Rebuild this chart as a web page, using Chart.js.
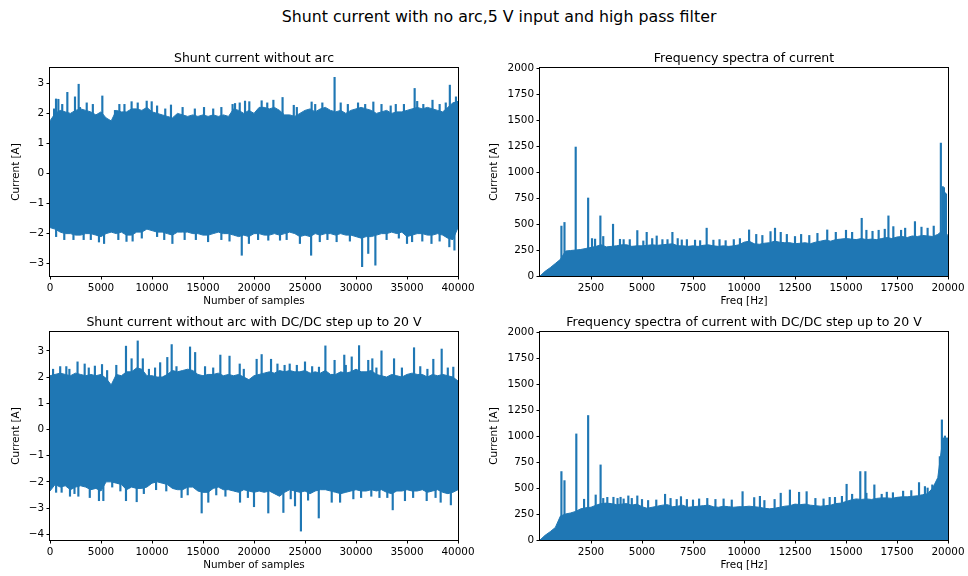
<!DOCTYPE html>
<html>
<head>
<meta charset="utf-8">
<script src="https://cdn.jsdelivr.net/npm/chart.js@4.4.0/dist/chart.umd.min.js"></script>
<style>
  body { margin: 0; background: #fff; }
  #fig { position: relative; width: 968px; height: 576px; overflow: hidden; background: #fff; font-family: "DejaVu Sans", sans-serif; }
  #fig canvas { position: absolute; }
  #suptitle { position: absolute; left: 0; width: 998px; top: 8.5px; line-height: 16px; font-size: 15.8px; text-align: center; color: #000; }
</style>
</head>
<body>
<div id="fig">
  <div id="suptitle">Shunt current with no arc,5 V input and high pass filter</div>
  <canvas id="tl" width="528" height="274" style="left:-10px;top:38px"></canvas>
  <canvas id="tr" width="528" height="274" style="left:480px;top:38px"></canvas>
  <canvas id="bl" width="528" height="274" style="left:-10px;top:302px"></canvas>
  <canvas id="br" width="528" height="274" style="left:480px;top:302px"></canvas>
</div>
<script>
const blue = "#1f77b4";

// sample index of each envelope point (time plots) and frequency of each envelope point (spectra)
const timeBins = [0, 500, 1000, 1500, 2000, 2500, 3000, 3500, 4000, 4500, 5000, 5500, 6000, 6500, 7000, 7500, 8000, 8500, 9000, 9500,
  10000, 10500, 11000, 11500, 12000, 12500, 13000, 13500, 14000, 14500, 15000, 15500, 16000, 16500, 17000, 17500, 18000, 18500, 19000, 19500,
  20000, 20500, 21000, 21500, 22000, 22500, 23000, 23500, 24000, 24500, 25000, 25500, 26000, 26500, 27000, 27500, 28000, 28500, 29000, 29500,
  30000, 30500, 31000, 31500, 32000, 32500, 33000, 33500, 34000, 34500, 35000, 35500, 36000, 36500, 37000, 37500, 38000, 38500, 39000, 39500, 40000];
const freqBins = [0, 250, 500, 750, 1000, 1250, 1500, 1750, 2000, 2250, 2500, 2750, 3000, 3250, 3500, 3750, 4000, 4250, 4500, 4750,
  5000, 5250, 5500, 5750, 6000, 6250, 6500, 6750, 7000, 7250, 7500, 7750, 8000, 8250, 8500, 8750, 9000, 9250, 9500, 9750,
  10000, 10250, 10500, 10750, 11000, 11250, 11500, 11750, 12000, 12250, 12500, 12750, 13000, 13250, 13500, 13750, 14000, 14250, 14500, 14750,
  15000, 15250, 15500, 15750, 16000, 16250, 16500, 16750, 17000, 17250, 17500, 17750, 18000, 18250, 18500, 18750, 19000, 19250, 19500, 19750, 20000];

// tick labels
const timeTicks = [0, 5000, 10000, 15000, 20000, 25000, 30000, 35000, 40000];
const freqTicks = [2500, 5000, 7500, 10000, 12500, 15000, 17500, 20000];
const currentTicksTop = [-3, -2, -1, 0, 1, 2, 3];
const currentTicksBottom = [-4, -3, -2, -1, 0, 1, 2, 3];
const spectraTicks = [0, 250, 500, 750, 1000, 1250, 1500, 1750, 2000];

// shunt current without arc: band edges and single peaks
const tlUpper = [1.75, 2.0, 2.1, 2.05, 2.0, 2.1, 2.15, 2.1, 2.05, 1.95, 2.05, 1.85, 1.75, 2.1, 2.05, 2.05, 2.15, 2.15, 2.1, 2.2,
  2.05, 2.0, 1.95, 1.9, 1.85, 2.0, 1.95, 1.9, 1.95, 1.9, 1.95, 1.9, 1.95, 1.9, 1.95, 1.9, 2.15, 2.1, 2.0, 2.1,
  2.0, 2.2, 2.2, 2.15, 2.2, 2.1, 1.95, 1.95, 1.9, 2.0, 2.1, 2.15, 2.05, 2.15, 2.2, 2.1, 2.05, 2.1, 2.0, 2.1,
  2.15, 2.2, 2.15, 2.1, 2.0, 2.05, 2.1, 2.0, 2.05, 2.05, 2.1, 2.15, 2.2, 2.15, 2.2, 2.15, 2.1, 2.05, 2.2, 2.35, 2.4];
const tlLower = [-1.8, -1.85, -1.95, -2.0, -2.0, -2.05, -2.05, -2.0, -2.0, -2.05, -2.1, -2.0, -1.95, -2.0, -1.95, -2.05, -2.05, -1.95, -1.95, -1.85,
  -1.9, -1.95, -1.95, -2.0, -2.05, -1.95, -1.95, -1.95, -2.0, -2.0, -2.05, -2.05, -2.0, -1.95, -2.0, -2.0, -2.05, -2.1, -2.05, -2.1,
  -2.0, -2.0, -2.05, -2.05, -2.0, -2.05, -2.0, -1.95, -2.0, -2.1, -2.05, -2.1, -2.0, -2.05, -2.0, -2.0, -2.05, -2.0, -2.05, -2.05,
  -2.1, -2.15, -2.1, -2.1, -2.05, -2.0, -2.0, -1.95, -2.0, -1.95, -2.1, -2.05, -2.0, -2.0, -2.05, -2.05, -2.0, -2.05, -2.15, -2.2, -1.8];
const tlPeakX = [400, 590, 820, 1200, 1700, 2450, 2810, 2940, 3600, 4200, 5130, 6370, 6800, 7300, 8000, 8600, 9480, 9970,
  10500, 11300, 11860, 13000, 14200, 15100, 16000, 16800, 17900, 18140, 18600, 19120, 19540,
  20750, 21300, 21900, 22800, 23900, 24200, 25650, 26000, 26700, 27900, 28500, 29200, 30200, 30900, 31700, 32500, 33400,
  33900, 34700, 35750, 36000, 36600, 37500, 38200, 38800, 39200, 39800,
  600, 1400, 2300, 3300, 4000, 4800, 5300, 6700, 7500, 8100, 9000, 10500, 11200, 12000, 13200, 14300, 15500, 16800, 17600,
  18800, 19500, 20400, 21400, 22550, 23200, 24500, 25600, 26450, 27200, 28100, 29400, 30600, 31200, 31900, 33000, 34200,
  35000, 35500, 36500, 37400, 38200, 39150, 39650];
const tlPeakY = [2.15, 2.48, 2.47, 2.3, 2.7, 2.55, 2.97, 2.2, 2.35, 2.3, 2.58, 2.1, 2.3, 2.3, 2.39, 2.35, 2.41, 2.39,
  2.25, 2.15, 2.28, 2.2, 2.15, 2.2, 2.15, 2.2, 2.3, 2.33, 2.35, 2.41, 2.39,
  2.42, 2.35, 2.44, 2.53, 2.27, 2.2, 2.38, 2.3, 2.35, 3.2, 2.35, 2.3, 2.35, 2.3, 2.38, 2.3, 2.25,
  2.3, 2.3, 2.83, 2.4, 2.3, 2.44, 2.3, 2.35, 2.94, 2.55,
  -2.1, -2.2, -2.2, -2.2, -2.2, -2.28, -2.33, -2.2, -2.26, -2.25, -2.15, -2.1, -2.2, -2.33, -2.2, -2.2, -2.27, -2.2, -2.25,
  -2.72, -2.33, -2.2, -2.22, -2.22, -2.2, -2.33, -2.72, -2.27, -2.2, -2.27, -2.25, -3.1, -2.66, -3.05, -2.2, -2.15,
  -2.33, -2.27, -2.25, -2.33, -2.25, -2.44, -2.55];

// shunt current with DC/DC step up
const blUpper = [2.05, 2.1, 2.15, 2.1, 2.05, 2.15, 2.1, 2.05, 2.1, 2.05, 2.1, 1.95, 1.7, 2.1, 2.05, 2.2, 2.2, 2.35, 2.3, 2.05,
  2.05, 2.0, 2.0, 2.1, 2.25, 2.2, 2.25, 2.3, 2.25, 2.1, 2.05, 2.1, 2.1, 2.15, 2.05, 2.1, 2.05, 2.1, 2.0, 1.9,
  2.05, 2.1, 2.15, 2.2, 2.15, 2.25, 2.2, 2.25, 2.2, 2.2, 2.25, 2.15, 2.2, 2.15, 2.25, 2.1, 2.1, 2.2, 2.15, 2.2,
  2.3, 2.2, 2.2, 2.25, 2.1, 2.05, 2.0, 2.1, 2.05, 2.0, 2.1, 2.15, 2.1, 2.1, 2.0, 2.1, 2.05, 2.1, 2.05, 2.0, 1.85];
const blLower = [-2.35, -2.1, -2.2, -2.15, -2.3, -2.2, -2.15, -2.2, -2.3, -2.25, -2.35, -2.0, -2.0, -2.05, -2.1, -2.3, -2.2, -2.25, -2.25, -2.2,
  -2.05, -2.0, -2.05, -2.1, -2.25, -2.3, -2.3, -2.2, -2.2, -2.35, -2.4, -2.4, -2.25, -2.2, -2.3, -2.3, -2.35, -2.4, -2.3, -2.35,
  -2.4, -2.35, -2.4, -2.35, -2.45, -2.55, -2.4, -2.3, -2.35, -2.4, -2.35, -2.45, -2.35, -2.3, -2.3, -2.35, -2.4, -2.45, -2.4, -2.35,
  -2.3, -2.35, -2.35, -2.3, -2.35, -2.3, -2.4, -2.45, -2.35, -2.35, -2.3, -2.35, -2.35, -2.3, -2.4, -2.35, -2.3, -2.4, -2.45, -2.4, -2.3];
const blPeakX = [300, 1000, 1600, 1900, 2700, 3400, 3800, 4400, 5100, 5600, 6500, 7450, 8000, 8600, 9100, 9700, 10300, 10800,
  11500, 11930, 12400, 13730, 14230, 15200, 16000, 16700, 17600, 18600, 19000, 20260, 20750, 21670, 22300, 23000, 23500,
  24200, 25000, 25700, 26370, 27000, 27900, 28850, 29000, 29580, 30300, 31200, 31600, 32000, 32500, 33730, 34500, 35690,
  36300, 37000, 37580, 38400, 39000, 39540,
  600, 1140, 1960, 2400, 2780, 3900, 4800, 5230, 6100, 6900, 7450, 8500, 9200, 10400, 11400, 12900, 13500, 14870, 15520,
  16300, 17200, 18630, 19400, 20000, 21400, 22880, 23600, 24020, 24600, 25300, 26350, 27620, 28440, 29740, 30500, 31500,
  32300, 33070, 33600, 34800, 35600, 36930, 37800, 38300, 39300];
const blPeakY = [2.3, 2.4, 2.4, 2.3, 2.58, 2.5, 2.35, 2.42, 2.48, 2.25, 2.45, 3.18, 2.7, 3.38, 2.7, 2.3, 2.35, 2.55,
  2.75, 3.24, 2.4, 3.15, 2.94, 2.4, 2.35, 2.84, 2.8, 2.5, 2.3, 2.68, 2.86, 2.68, 2.5, 2.45, 2.5,
  2.45, 2.58, 2.4, 2.38, 3.19, 2.64, 2.84, 2.45, 2.77, 3.2, 2.64, 2.7, 2.35, 3.0, 2.7, 2.35, 3.12,
  2.4, 2.3, 2.68, 3.07, 2.35, 2.38,
  -2.4, -2.4, -2.55, -2.45, -2.55, -2.6, -2.72, -2.72, -2.2, -2.35, -2.72, -2.76, -2.45, -2.3, -2.35, -2.6, -2.5, -3.19, -2.78,
  -2.5, -2.55, -2.78, -2.6, -2.95, -3.19, -3.17, -2.65, -2.92, -3.88, -2.7, -3.38, -2.78, -2.78, -2.65, -2.6, -2.55,
  -2.6, -2.6, -3.07, -2.72, -2.6, -2.72, -2.6, -2.78, -2.88];

// frequency spectra: top of the dense band and single peaks
const trEnvelope = [0, 45, 80, 120, 160, 240, 245, 250, 255, 265, 275, 285, 300, 280, 285, 290, 300, 300, 285, 290,
  290, 295, 300, 295, 300, 305, 310, 290, 290, 285, 290, 285, 295, 300, 290, 285, 290, 285, 290, 300,
  325, 335, 310, 305, 315, 320, 335, 325, 320, 320, 310, 315, 320, 310, 325, 335, 345, 335, 350, 355,
  360, 355, 350, 360, 350, 355, 350, 360, 370, 360, 375, 380, 370, 385, 380, 390, 385, 380, 400, 440, 390];
const trPeakX = [1050, 1200, 1750, 2360, 2550, 2700, 2960, 3100, 3580, 3920, 4100, 4400, 4770, 5065, 5230, 5500, 5720, 6000,
  6250, 6490, 6750, 6950, 7200, 7600, 7850, 8170, 8500, 8800, 9100, 9500, 9800, 10250, 10600, 10900, 11300, 11520, 11800,
  12100, 12500, 12800, 13200, 13600, 14080, 14500, 15000, 15300, 15770, 16000, 16300, 16600, 16900, 17080, 17320, 17700,
  17900, 18380, 18700, 19000, 19300, 19650, 19740, 19800, 19850, 19900];
const trPeakY = [480, 515, 1240, 750, 360, 355, 578, 380, 498, 353, 350, 350, 437, 337, 420, 360, 385, 350,
  350, 420, 360, 347, 350, 345, 340, 460, 345, 350, 340, 350, 360, 443, 400, 390, 427, 460, 420,
  400, 380, 400, 390, 410, 443, 420, 440, 420, 555, 440, 430, 440, 450, 578, 475, 440,
  460, 523, 470, 460, 480, 1278, 860, 850, 800, 790];

const brEnvelope = [0, 45, 80, 120, 230, 250, 260, 275, 300, 310, 315, 335, 350, 355, 350, 340, 345, 350, 335, 345,
  320, 305, 315, 325, 335, 340, 320, 325, 335, 315, 320, 325, 330, 335, 320, 315, 325, 320, 315, 320,
  320, 325, 320, 315, 305, 300, 305, 315, 325, 330, 345, 340, 345, 335, 330, 325, 330, 335, 350, 355,
  370, 385, 395, 390, 395, 390, 400, 405, 405, 400, 410, 415, 415, 420, 425, 435, 445, 500, 600, 980, 980];
const brPeakX = [1050, 1200, 1780, 2160, 2360, 2730, 2970, 3100, 3300, 3600, 3800, 3950, 4100, 4330, 4500, 4770, 5000,
  5300, 5700, 6130, 6400, 6700, 6910, 7200, 7500, 7800, 8200, 8600, 9000, 9400, 9930, 10500, 10780, 11000, 11500, 11800,
  12250, 12700, 13070, 13500, 13900, 14200, 14460, 14800, 15030, 15300, 15700, 15950, 16000, 16390, 16750, 17000, 17300,
  17800, 18200, 18580, 18870, 19000, 19230, 19600, 19700, 19850];
const brPeakY = [658, 571, 1020, 392, 1197, 433, 722, 400, 410, 411, 400, 411, 395, 424, 400, 424, 390,
  380, 385, 440, 400, 390, 417, 390, 385, 395, 400, 390, 395, 385, 465, 408, 420, 380, 390, 450,
  481, 459, 465, 400, 395, 410, 410, 420, 536, 440, 658, 658, 450, 530, 440, 460, 455,
  470, 475, 552, 514, 500, 530, 802, 1155, 1000];

const font = "DejaVu Sans";

// matplotlib draws a box on all four sides
const frame = {
  id: "frame",
  afterDatasetsDraw(chart) {
    let a = chart.chartArea;
    let ctx = chart.ctx;
    ctx.save();
    ctx.strokeStyle = "#000";
    ctx.lineWidth = 1;
    ctx.strokeRect(a.left - 0.5, a.top - 0.5, a.right - a.left + 1, a.bottom - a.top + 1);
    ctx.restore();
  },
};

function points(xs, ys) {
  return xs.map((x, i) => ({ x: x, y: ys[i] }));
}

function axis(ticks, min, max, title, titlePad, isY) {
  return {
    type: "linear",
    min: min,
    max: max,
    offset: false,
    afterBuildTicks: (s) => {
      s.ticks = ticks.map((v) => ({ value: v }));
    },
    afterFit: (s) => {
      if (isY) s.width = 60;
      else s.height = 36;
    },
    ticks: {
      autoSkip: false,
      maxRotation: 0,
      padding: 2.5,
      color: "#000",
      font: { family: font, size: 10.4 },
      callback: (v) => String(v).replace("-", "\u2212"),
    },
    grid: { display: true, offset: false, drawOnChartArea: false, drawTicks: true, tickLength: 3.5, color: "#000", lineWidth: 1 },
    border: { display: false },
    title: { display: true, text: title, color: "#000", font: { family: font, size: 10.4 }, padding: titlePad },
  };
}

// empty axis on the right so the title centres over the plot area
const spacer = {
  position: "right",
  display: true,
  afterFit: (s) => {
    s.width = 60;
  },
  ticks: { display: false },
  grid: { display: false },
  border: { display: false },
};

function makePlot(id, title, datasets, xScale, yScale) {
  return new Chart(document.getElementById(id), {
    type: "line",
    data: { datasets: datasets },
    options: {
      responsive: false,
      animation: false,
      devicePixelRatio: 1,
      layout: { padding: 0 },
      plugins: {
        legend: { display: false },
        tooltip: { enabled: false },
        title: {
          display: true,
          text: title,
          color: "#000",
          font: { family: font, size: 12.5, weight: "normal" },
          padding: { top: 13.5, bottom: 1.5 },
        },
      },
      scales: { x: xScale, y: yScale, y2: spacer },
    },
    plugins: [frame],
  });
}

function timeSets(upper, lower, peakX, peakY) {
  return [
    { type: "line", data: points(timeBins, upper), fill: "+1", borderColor: blue, backgroundColor: blue, borderWidth: 1, pointRadius: 0 },
    { type: "line", data: points(timeBins, lower), fill: false, borderColor: blue, borderWidth: 1, pointRadius: 0 },
    { type: "bar", data: points(peakX, peakY), backgroundColor: blue, barThickness: 1.5, borderWidth: 0 },
  ];
}

function spectraSets(envelope, peakX, peakY) {
  return [
    { type: "line", data: points(freqBins, envelope), fill: "origin", borderColor: blue, backgroundColor: blue, borderWidth: 1, pointRadius: 0 },
    { type: "bar", data: points(peakX, peakY), backgroundColor: blue, barThickness: 1.5, borderWidth: 0 },
  ];
}

makePlot("tl", "Shunt current without arc", timeSets(tlUpper, tlLower, tlPeakX, tlPeakY),
  axis(timeTicks, 0, 40000, "Number of samples", { top: 4, bottom: 4 }, false),
  axis(currentTicksTop, -3.41, 3.51, "Current [A]", { top: 20.5, bottom: 4 }, true));

makePlot("tr", "Frequency spectra of current", spectraSets(trEnvelope, trPeakX, trPeakY),
  axis(freqTicks, 0, 20000, "Freq [Hz]", { top: 4, bottom: 4 }, false),
  axis(spectraTicks, 0, 2000, "Current [A]", { top: 8.5, bottom: 4 }, true));

makePlot("bl", "Shunt current without arc with DC/DC step up to 20 V", timeSets(blUpper, blLower, blPeakX, blPeakY),
  axis(timeTicks, 0, 40000, "Number of samples", { top: 4, bottom: 4 }, false),
  axis(currentTicksBottom, -4.22, 3.72, "Current [A]", { top: 20.5, bottom: 4 }, true));

makePlot("br", "Frequency spectra of current with DC/DC step up to 20 V", spectraSets(brEnvelope, brPeakX, brPeakY),
  axis(freqTicks, 0, 20000, "Freq [Hz]", { top: 4, bottom: 4 }, false),
  axis(spectraTicks, 0, 2000, "Current [A]", { top: 8.5, bottom: 4 }, true));
</script>
</body>
</html>
